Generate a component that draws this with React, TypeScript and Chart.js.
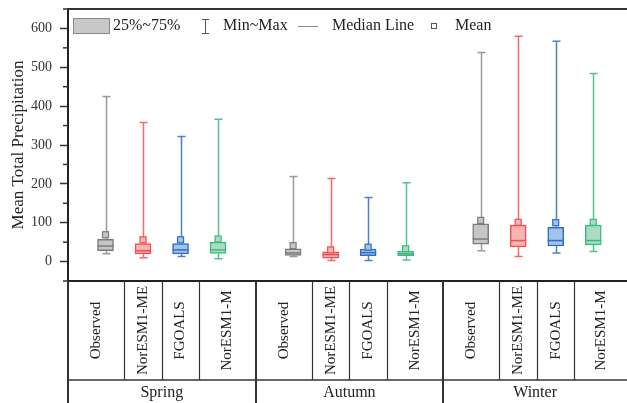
import React, { useEffect, useRef } from "react";
import { Chart, registerables } from "chart.js";

Chart.register(...registerables);

const seasons = ["Spring", "Autumn", "Winter"];
const models = ["Observed", "NorESM1-ME", "FGOALS", "NorESM1-M"];
// order: Spring(Observed, NorESM1-ME, FGOALS, NorESM1-M), Autumn(...), Winter(...)
const mins = [20, 10, 13, 7, 13, 3, 3, 4, 28, 13, 22, 26];
const q1s = [28, 20, 20, 21, 16, 9, 15, 15, 45, 38, 40, 43];
const medians = [40, 28, 30, 30, 22, 18, 23, 20, 58, 54, 54, 54];
const q3s = [57, 46, 46, 50, 33, 25, 32, 27, 97, 94, 88, 94];
const maxs = [425, 358, 322, 366, 219, 214, 165, 203, 538, 580, 567, 484];
const means = [69, 56, 56, 58, 41, 30, 37, 33, 106, 101, 100, 101];
const yTickLabels = [0, 100, 200, 300, 400, 500, 600];

const fillColors = ["#c6c6c6", "#f8b2b2", "#a3c3ea", "#a9dcc3"];
const strokeColors = ["#7c7c7c", "#ee5050", "#2e6ec2", "#3cba7c"];
const whiskerColors = ["#9a9a9a", "#f26a6a", "#4a80c8", "#52c28a"];

const FONT = '"Liberation Serif", "Times New Roman", serif';

const slotOf = (i: number) => Math.floor(i / models.length) * (models.length + 1) + (i % models.length);
const modelOf = (i: number) => i % models.length;

const extrasPlugin = {
  id: "boxExtras",
  beforeDatasetsDraw(chart: any) {
    const { ctx, scales } = chart;
    const x = scales.x, y = scales.y;
    ctx.save();
    ctx.lineWidth = 1.5;
    for (let i = 0; i < maxs.length; i++) {
      const px = Math.round(x.getPixelForValue(slotOf(i))) + 0.5;
      ctx.strokeStyle = whiskerColors[modelOf(i)];
      const yMax = y.getPixelForValue(maxs[i]);
      const yMin = y.getPixelForValue(mins[i]);
      ctx.beginPath();
      ctx.moveTo(px, yMax);
      ctx.lineTo(px, y.getPixelForValue(q3s[i]));
      ctx.moveTo(px, y.getPixelForValue(q1s[i]));
      ctx.lineTo(px, yMin);
      ctx.moveTo(px - 4, yMax);
      ctx.lineTo(px + 4, yMax);
      ctx.moveTo(px - 4, yMin);
      ctx.lineTo(px + 4, yMin);
      ctx.stroke();
    }
    ctx.restore();
  },
  afterDatasetsDraw(chart: any) {
    const { ctx, scales } = chart;
    const x = scales.x, y = scales.y;
    ctx.save();
    for (let i = 0; i < medians.length; i++) {
      const m = modelOf(i);
      const px = x.getPixelForValue(slotOf(i));
      ctx.strokeStyle = strokeColors[m];
      ctx.lineWidth = 1.5;
      const ym = y.getPixelForValue(medians[i]);
      ctx.beginPath();
      ctx.moveTo(px - 8, ym);
      ctx.lineTo(px + 8, ym);
      ctx.stroke();
      const ymean = y.getPixelForValue(means[i]);
      ctx.fillStyle = fillColors[m];
      ctx.fillRect(px - 3, ymean - 3, 6, 6);
      ctx.lineWidth = 1.2;
      ctx.strokeRect(px - 3, ymean - 3, 6, 6);
    }
    ctx.restore();
  },
  afterDraw(chart: any) {
    const { ctx, scales, chartArea, height } = chart;
    const x = scales.x, y = scales.y;
    ctx.save();
    // top frame
    ctx.strokeStyle = "#333";
    ctx.lineWidth = 2;
    ctx.beginPath();
    ctx.moveTo(chartArea.left - 1, chartArea.top);
    ctx.lineTo(chartArea.right, chartArea.top);
    ctx.stroke();
    // minor ticks
    ctx.lineWidth = 1.5;
    for (let v = -50; v <= 650; v += 100) {
      const py = y.getPixelForValue(v);
      ctx.beginPath();
      ctx.moveTo(chartArea.left - 5, py);
      ctx.lineTo(chartArea.left, py);
      ctx.stroke();
    }
    // legend
    const ly = 26;
    ctx.fillStyle = "#c8c8c8";
    ctx.fillRect(73, 18, 37, 16);
    ctx.strokeStyle = "#888";
    ctx.lineWidth = 1;
    ctx.strokeRect(73.5, 18.5, 36, 15);
    ctx.fillStyle = "#222";
    ctx.font = `16px ${FONT}`;
    ctx.textAlign = "left";
    ctx.textBaseline = "middle";
    ctx.fillText("25%~75%", 113, ly);
    ctx.strokeStyle = "#555";
    ctx.beginPath();
    ctx.moveTo(205.5, 19);
    ctx.lineTo(205.5, 34);
    ctx.moveTo(202, 19.5);
    ctx.lineTo(209, 19.5);
    ctx.moveTo(202, 33.5);
    ctx.lineTo(209, 33.5);
    ctx.stroke();
    ctx.fillText("Min~Max", 223, ly);
    ctx.strokeStyle = "#888";
    ctx.beginPath();
    ctx.moveTo(298, ly + 0.5);
    ctx.lineTo(318, ly + 0.5);
    ctx.stroke();
    ctx.fillText("Median Line", 332, ly);
    ctx.strokeStyle = "#555";
    ctx.strokeRect(431.5, 23.5, 5, 5);
    ctx.fillText("Mean", 455, ly);

    // category table
    const top = chartArea.bottom;
    const mid = 380;
    ctx.strokeStyle = "#333";
    ctx.lineWidth = 2;
    ctx.beginPath();
    ctx.moveTo(chartArea.left, top);
    ctx.lineTo(chartArea.left, height);
    ctx.stroke();
    ctx.lineWidth = 1.5;
    ctx.beginPath();
    ctx.moveTo(chartArea.left, mid);
    ctx.lineTo(chartArea.right, mid);
    ctx.stroke();
    const nGroup = models.length + 1;
    seasons.forEach((s, g) => {
      const start = g * nGroup;
      const left = g === 0 ? chartArea.left : x.getPixelForValue(start - 1);
      const right = g === seasons.length - 1 ? chartArea.right : x.getPixelForValue(start + models.length);
      if (g < seasons.length - 1) {
        ctx.lineWidth = 2;
        ctx.beginPath();
        ctx.moveTo(Math.round(right), top);
        ctx.lineTo(Math.round(right), height);
        ctx.stroke();
      }
      const edges: number[] = [left];
      for (let m = 0; m < models.length - 1; m++) {
        edges.push(x.getPixelForValue(start + m + 0.5));
      }
      edges.push(right);
      ctx.lineWidth = 1.2;
      for (let k = 1; k < edges.length - 1; k++) {
        const ex = Math.round(edges[k]) + 0.5;
        ctx.beginPath();
        ctx.moveTo(ex, top);
        ctx.lineTo(ex, mid);
        ctx.stroke();
      }
      ctx.fillStyle = "#222";
      ctx.font = `15px ${FONT}`;
      ctx.textAlign = "center";
      ctx.textBaseline = "middle";
      models.forEach((name, m) => {
        const cx = (edges[m] + edges[m + 1]) / 2;
        const cy = (top + mid) / 2;
        ctx.save();
        ctx.translate(cx, cy);
        ctx.rotate(-Math.PI / 2);
        ctx.fillText(name, 0, 0);
        ctx.restore();
      });
      ctx.font = `16px ${FONT}`;
      ctx.fillText(s, (left + right) / 2, 393);
    });
    ctx.restore();
  },
};

export default function App() {
  const ref = useRef<HTMLCanvasElement | null>(null);
  useEffect(() => {
    if (!ref.current) return;
    const data = maxs.map((_, i) => ({ x: slotOf(i), y: [q1s[i], q3s[i]] }));
    const chart = new Chart(ref.current, {
      type: "bar",
      data: {
        datasets: [
          {
            data: data as any,
            backgroundColor: maxs.map((_, i) => fillColors[modelOf(i)]),
            borderColor: maxs.map((_, i) => strokeColors[modelOf(i)]),
            borderWidth: 1.5,
            borderSkipped: false,
            barThickness: 16,
          },
        ],
      },
      options: {
        responsive: false,
        animation: false,
        devicePixelRatio: 1,
        layout: { padding: { top: 9, right: 0, bottom: 122, left: 0 } },
        plugins: { legend: { display: false }, tooltip: { enabled: false } },
        scales: {
          x: {
            type: "linear",
            min: -1,
            max: 13.9,
            offset: false,
            ticks: { display: false },
            grid: { display: false, offset: false },
            border: { display: true, color: "#222", width: 2 },
            afterFit: (s: any) => {
              s.height = 0;
              s.paddingLeft = 0;
              s.paddingRight = 0;
            },
          },
          y: {
            min: -50,
            max: 650,
            ticks: {
              stepSize: 50,
              autoSkip: false,
              padding: 8,
              color: "#333",
              font: { family: FONT, size: 14 },
              callback: (v: any) => (yTickLabels.includes(Number(v)) ? String(v) : null),
            },
            grid: {
              drawOnChartArea: false,
              tickLength: 8,
              tickWidth: 1.5,
              tickColor: "#333",
            },
            border: { display: true, color: "#222", width: 2 },
            title: {
              display: true,
              text: "Mean Total Precipitation",
              color: "#222",
              font: { family: FONT, size: 17 },
              padding: { top: 8, bottom: 0 },
            },
            afterFit: (s: any) => {
              s.width = 68;
              s.paddingTop = 0;
              s.paddingBottom = 0;
            },
          },
        },
      },
      plugins: [extrasPlugin],
    });
    return () => chart.destroy();
  }, []);
  return (
    <div style={{ position: "fixed", left: 0, top: 0, width: 627, height: 403, background: "#fff" }}>
      <canvas ref={ref} width={627} height={403} style={{ display: "block" }} />
    </div>
  );
}
